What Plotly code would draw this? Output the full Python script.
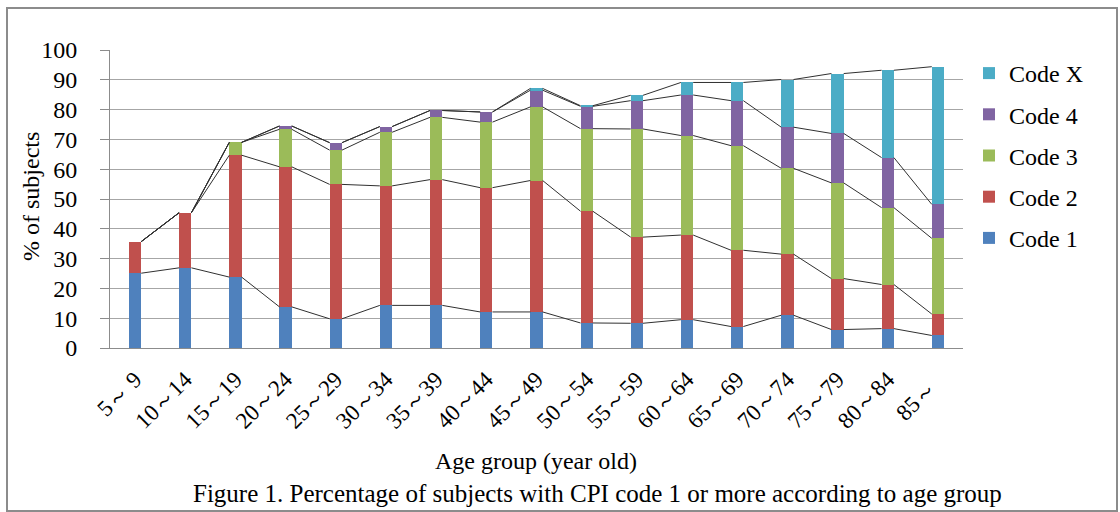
import plotly.graph_objects as go

# Age groups (x axis)
age_groups = ["5～ 9", "10～14", "15～19", "20～24", "25～29", "30～34", "35～39",
              "40～44", "45～49", "50～54", "55～59", "60～64", "65～69", "70～74",
              "75～79", "80～84", "85～\u00a0\u00a0"]

# Percentage of subjects by highest CPI code (stacked segments)
code1 = [25.1, 26.9, 23.8, 13.8, 9.8, 14.3, 14.3, 12.1, 12.1, 8.4, 8.3, 9.5, 7.2, 11.0, 6.2, 6.5, 4.2]
code2 = [10.6, 18.5, 40.9, 47.0, 45.1, 40.1, 42.2, 41.7, 44.1, 37.5, 28.9, 28.4, 25.6, 20.5, 17.1, 14.8, 7.2]
code3 = [0.0, 0.0, 4.3, 12.6, 11.5, 18.0, 20.9, 22.0, 24.7, 27.7, 36.3, 33.4, 35.1, 28.8, 32.1, 25.8, 25.4]
code4 = [0.0, 0.0, 0.0, 1.1, 2.5, 1.9, 2.3, 3.4, 5.6, 7.5, 9.5, 13.6, 15.1, 13.8, 16.6, 16.8, 11.4]
codex = [0.0, 0.0, 0.0, 0.0, 0.0, 0.0, 0.0, 0.0, 0.6, 0.2, 1.8, 4.2, 6.1, 16.0, 20.1, 29.3, 46.2]

series_names = ["Code 1", "Code 2", "Code 3", "Code 4", "Code X"]
series_values = [code1, code2, code3, code4, codex]
series_colors = ["#4F81BD", "#C0504D", "#9BBB59", "#8064A2", "#4BACC6"]

y_ticks = list(range(0, 101, 10))

FONT = "Liberation Serif, Times New Roman, serif"
BAR_W = 0.245
x_pos = list(range(len(age_groups)))

fig = go.Figure()

n_series = len(series_names)
for k, (name, vals, col) in enumerate(zip(series_names, series_values, series_colors)):
    fig.add_trace(go.Bar(
        x=x_pos, y=vals, name=name, width=BAR_W,
        marker=dict(color=col, line=dict(width=0)),
        legendgroup=name, legendrank=n_series - k,
    ))

# Series lines joining the top of each stacked segment between neighbouring bars
cum = [0.0] * len(age_groups)
for vals in series_values:
    cum = [c + v for c, v in zip(cum, vals)]
    lx, ly = [], []
    for i in range(len(age_groups) - 1):
        lx += [i + BAR_W / 2, i + 1 - BAR_W / 2, None]
        ly += [cum[i], cum[i + 1], None]
    fig.add_trace(go.Scatter(
        x=lx, y=ly, mode="lines", showlegend=False, hoverinfo="skip",
        line=dict(color="#303030", width=1),
    ))

L, R, T, B = 110, 157, 50, 164
W, H = 1120, 512
pw, ph = W - L - R, H - T - B


def px(xp):
    return (xp - L) / pw


def py(yp):
    return (H - B - yp) / ph


fig.update_layout(
    width=W, height=H,
    margin=dict(l=L, r=R, t=T, b=B),
    barmode="stack",
    bargap=0,
    plot_bgcolor="white",
    paper_bgcolor="white",
    font=dict(family=FONT, size=22, color="black"),
    showlegend=True,
    legend=dict(
        x=px(969), y=py(51), xanchor="left", yanchor="top",
        traceorder="grouped", tracegroupgap=7,
        font=dict(family=FONT, size=24, color="black"),
        bgcolor="rgba(0,0,0,0)", borderwidth=0,
    ),
    xaxis=dict(
        range=[-0.5, len(age_groups) - 0.5],
        tickmode="array", tickvals=x_pos, ticktext=age_groups,
        tickangle=-45, showgrid=False, zeroline=False,
        showline=True, linecolor="#8c8c8c", linewidth=1,
        ticks="", ticklabelstandoff=8,
        tickfont=dict(family=FONT, size=23, color="black"),
    ),
    yaxis=dict(
        range=[0, 100], tickmode="array", tickvals=y_ticks,
        showgrid=True, gridcolor="#a6a6a6", gridwidth=1,
        zeroline=False, showline=True, linecolor="#8c8c8c", linewidth=1,
        ticks="outside", ticklen=9, tickcolor="#8c8c8c",
        ticklabelstandoff=18,
        tickfont=dict(family=FONT, size=24, color="black"),
    ),
    annotations=[
        dict(text="% of subjects", xref="paper", yref="paper",
             x=px(31), y=py(197), xanchor="center", yanchor="middle",
             textangle=-90, showarrow=False,
             font=dict(family=FONT, size=24, color="black")),
        dict(text="Age group (year old)", xref="paper", yref="paper",
             x=px(536), y=py(461), xanchor="center", yanchor="middle",
             showarrow=False,
             font=dict(family=FONT, size=24, color="black")),
        dict(text="Figure 1. Percentage of subjects with CPI code 1 or more according to age group",
             xref="paper", yref="paper", x=px(597), y=py(493),
             xanchor="center", yanchor="middle", showarrow=False,
             font=dict(family=FONT, size=25, color="black")),
    ],
    shapes=[
        dict(type="rect", xref="paper", yref="paper",
             x0=px(7), x1=px(1117), y0=py(511), y1=py(8),
             line=dict(color="#8c8c8c", width=2), fillcolor="rgba(0,0,0,0)", layer="below"),
    ],
)

fig.write_html("out.html")
